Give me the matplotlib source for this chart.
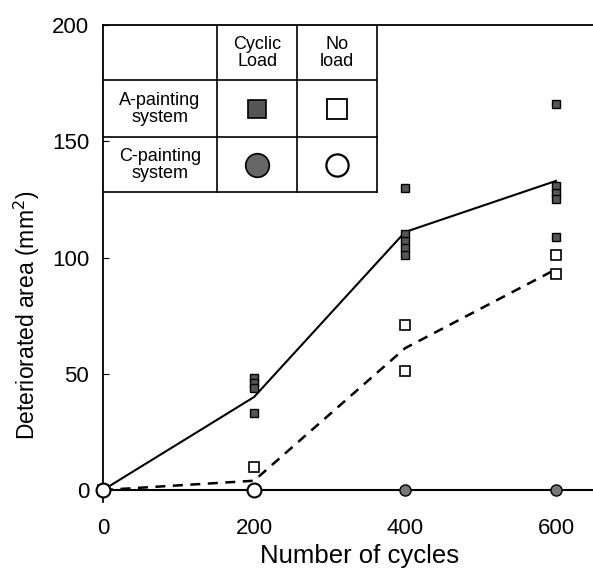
import matplotlib
matplotlib.use("Agg")
import matplotlib.pyplot as plt

plt.rcParams['font.family'] = ['Liberation Sans', 'DejaVu Sans']

# data
cycles = [0, 200, 400, 600]
a_cyc_x = [200, 200, 200, 200, 400, 400, 400, 400, 400, 600, 600, 600, 600, 600]
a_cyc_y = [48, 46, 44, 33, 130, 110, 107, 104, 101, 166, 131, 128, 125, 109]
a_cyc_mean = [0, 40, 111, 133]
a_no_x = [0, 200, 400, 400, 600, 600]
a_no_y = [0, 10, 71, 51, 101, 93]
a_no_mean = [0, 4, 61, 95]
c_cyc_x = [400, 600]
c_cyc_y = [0, 0]
c_no_x = [0, 200]
c_no_y = [0, 0]

fig = plt.figure(figsize=(5.93, 5.72), dpi=100)
ax = fig.add_axes([0.1737, 0.123, 0.8263, 0.833])

ax.plot(cycles, a_cyc_mean, color='black', lw=1.5)
ax.plot(cycles, a_no_mean, color='black', lw=1.8, ls=(0, (4, 3)))
ax.axhline(0, color='black', lw=1.5)

ax.plot(a_cyc_x, a_cyc_y, ls='none', marker='s', ms=6, mfc='#555555',
        mec='black', mew=1, clip_on=False, zorder=3)
ax.plot(a_no_x, a_no_y, ls='none', marker='s', ms=7, mfc='white',
        mec='black', mew=1.2, clip_on=False, zorder=3)
ax.plot(c_cyc_x, c_cyc_y, ls='none', marker='o', ms=8, mfc='#777777',
        mec='black', mew=1, clip_on=False, zorder=3)
ax.plot(c_no_x, c_no_y, ls='none', marker='o', ms=10, mfc='white',
        mec='black', mew=1.5, clip_on=False, zorder=4)

ax.set_xlim(0, 649)
ax.set_ylim(-5, 200)
ax.set_xticks([0, 200, 400, 600])
ax.set_yticks([0, 50, 100, 150, 200])
ax.tick_params(axis='y', direction='in', length=4, labelsize=16, pad=10)
ax.tick_params(axis='x', length=0, labelsize=16, pad=12)
ax.spines['right'].set_visible(False)
ax.spines['bottom'].set_visible(False)
ax.spines['left'].set_linewidth(1.3)
ax.spines['top'].set_linewidth(1.3)
ax.set_xlabel("Number of cycles", fontsize=18.5)
ax.set_ylabel("Deteriorated area (mm$^2$)", fontsize=16.5)
ax.xaxis.set_label_coords(0.524, -0.088)
ax.yaxis.set_label_coords(-0.125, 0.39)

# legend table drawn in axes coords
tr = ax.transAxes
col_x = [0.0, 0.233, 0.396, 0.559]
row_y = [1.0, 0.885, 0.765, 0.650]
for yy in row_y[1:]:
    ax.plot([col_x[0], col_x[-1]], [yy, yy], color='black', lw=1.2, transform=tr)
for xx in col_x[1:]:
    ax.plot([xx, xx], [row_y[0], row_y[-1]], color='black', lw=1.2, transform=tr)

def mid(a, i):
    return (a[i] + a[i + 1]) / 2

heads = ["Cyclic\nLoad", "No\nload"]
rows = ["A-painting\nsystem", "C-painting\nsystem"]
for i, h in enumerate(heads):
    ax.text(mid(col_x, i + 1), mid(row_y, 0), h, transform=tr, ha='center',
            va='center', fontsize=13, linespacing=1.0)
for j, r in enumerate(rows):
    ax.text(mid(col_x, 0), mid(row_y, j + 1), r, transform=tr, ha='center',
            va='center', fontsize=13, linespacing=1.0)

ax.plot(mid(col_x, 1), mid(row_y, 1), marker='s', ms=13, mfc='#555555', mec='black',
        mew=1.2, transform=tr)
ax.plot(mid(col_x, 2), mid(row_y, 1), marker='s', ms=15, mfc='white', mec='black',
        mew=1.3, transform=tr)
ax.plot(mid(col_x, 1), mid(row_y, 2), marker='o', ms=17, mfc='#666666', mec='black',
        mew=1.2, transform=tr)
ax.plot(mid(col_x, 2), mid(row_y, 2), marker='o', ms=16, mfc='white', mec='black',
        mew=1.6, transform=tr)

fig.savefig("out.png", dpi=100)
